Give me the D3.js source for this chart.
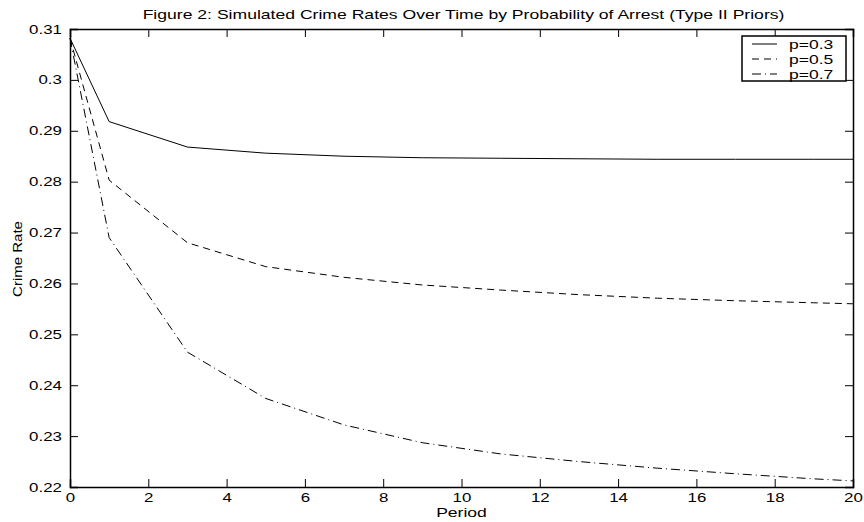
<!DOCTYPE html>
<html>
<head>
<meta charset="utf-8">
<script src="https://cdn.jsdelivr.net/npm/d3@7"></script>
<style>
  body { margin: 0; background: #fff; }
  svg text { font-family: "Liberation Sans", Arial, sans-serif; fill: #000; }
</style>
</head>
<body>
<div id="chart"></div>
<script>
// simulated crime rates
var periods = [0, 1, 3, 5, 7, 9, 11, 13, 15, 17, 19, 20];
var p03 = [0.3082, 0.2918, 0.2868, 0.2856, 0.2850, 0.2847, 0.2846, 0.2845, 0.2844, 0.2844, 0.2844, 0.2844];
var p05 = [0.3082, 0.2803, 0.2680, 0.2633, 0.2612, 0.2597, 0.2587, 0.2578, 0.2571, 0.2566, 0.2562, 0.2560];
var p07 = [0.3082, 0.2690, 0.2465, 0.2374, 0.2322, 0.2287, 0.2265, 0.2250, 0.2237, 0.2226, 0.2216, 0.2212];
var seriesNames = ["p=0.3", "p=0.5", "p=0.7"];
var xTicks = [0, 2, 4, 6, 8, 10, 12, 14, 16, 18, 20];
var yTicks = [0.22, 0.23, 0.24, 0.25, 0.26, 0.27, 0.28, 0.29, 0.3, 0.31];

var W = 864, H = 522;
var margin = { top: 29, right: 11, bottom: 35, left: 70 };
var w = W - margin.left - margin.right;
var h = H - margin.top - margin.bottom;

// the original figure was stretched sideways, so text is too
var sx = 1.35;
var fs = "12.5px";

var svg = d3.select("#chart").append("svg")
    .attr("width", W)
    .attr("height", H);

var g = svg.append("g")
    .attr("transform", "translate(" + margin.left + "," + margin.top + ")");

var x = d3.scaleLinear().domain([0, 20]).range([0, w]);
var y = d3.scaleLinear().domain([0.22, 0.31]).range([h, 0]);

var tickLen = 8;
var fmtY = function(d) { return d3.format(".2~f")(d); };

// axes, matlab style: inward ticks on every side
var xb = g.append("g").attr("transform", "translate(0," + h + ")")
    .call(d3.axisBottom(x).tickValues(xTicks).tickSize(-tickLen).tickPadding(6));
var xt = g.append("g")
    .call(d3.axisTop(x).tickValues(xTicks).tickSize(-tickLen).tickFormat(""));
var yl = g.append("g")
    .call(d3.axisLeft(y).tickValues(yTicks).tickSize(-tickLen).tickPadding(6).tickFormat(fmtY));
var yr = g.append("g").attr("transform", "translate(" + w + ",0)")
    .call(d3.axisRight(y).tickValues(yTicks).tickSize(-tickLen).tickFormat(""));

[xb, xt, yl, yr].forEach(function(a) {
    a.select(".domain").attr("stroke", "#000").attr("stroke-width", 1.5);
    a.selectAll(".tick line").attr("stroke", "#000").attr("stroke-width", 1);
    a.selectAll("text")
        .attr("font-size", fs)
        .attr("fill", "#000")
        .attr("transform", "scale(" + sx + ",1)");
});

// the lines
var styles = ["none", "7,5", "9,4,1,4"];
var allSeries = [p03, p05, p07];

var line = d3.line()
    .x(function(d, i) { return x(periods[i]); })
    .y(function(d) { return y(d); });

g.selectAll(".series")
    .data(allSeries)
    .enter()
    .append("path")
    .attr("class", "series")
    .attr("d", line)
    .attr("fill", "none")
    .attr("stroke", "#000")
    .attr("stroke-width", 1)
    .attr("stroke-dasharray", function(d, i) { return styles[i]; });

// legend box
var leg = g.append("g").attr("transform", "translate(" + (w - 111) + ",7)");
leg.append("rect")
    .attr("width", 104)
    .attr("height", 45)
    .attr("fill", "#fff")
    .attr("stroke", "#000")
    .attr("stroke-width", 1.5);

seriesNames.forEach(function(name, i) {
    var ly = 8 + i * 15;
    leg.append("line")
        .attr("x1", 10).attr("x2", 35)
        .attr("y1", ly).attr("y2", ly)
        .attr("stroke", "#000")
        .attr("stroke-width", 1)
        .attr("stroke-dasharray", styles[i]);
    leg.append("text")
        .attr("transform", "translate(47," + (ly + 4.5) + ") scale(" + (sx + 0.05) + ",1)")
        .attr("font-size", fs)
        .text(name);
});

// titles
var title = svg.append("text")
    .attr("text-anchor", "middle")
    .attr("font-size", "12px")
    .text("Figure 2: Simulated Crime Rates Over Time by Probability of Arrest (Type II Priors)");
// title runs from about x=143 to x=785 in the original
var tsx = 642 / title.node().getComputedTextLength();
title.attr("transform", "translate(" + (margin.left + w / 2 + 2) + ",19) scale(" + tsx + ",1)");

svg.append("text")
    .attr("transform", "translate(" + (margin.left + w / 2) + ",517) scale(" + sx + ",1)")
    .attr("text-anchor", "middle")
    .attr("font-size", "13px")
    .text("Period");

svg.append("text")
    .attr("transform", "translate(22," + (margin.top + h / 2 + 1) + ") rotate(-90) scale(1.2,1)")
    .attr("text-anchor", "middle")
    .attr("font-size", fs)
    .text("Crime Rate");
</script>
</body>
</html>
